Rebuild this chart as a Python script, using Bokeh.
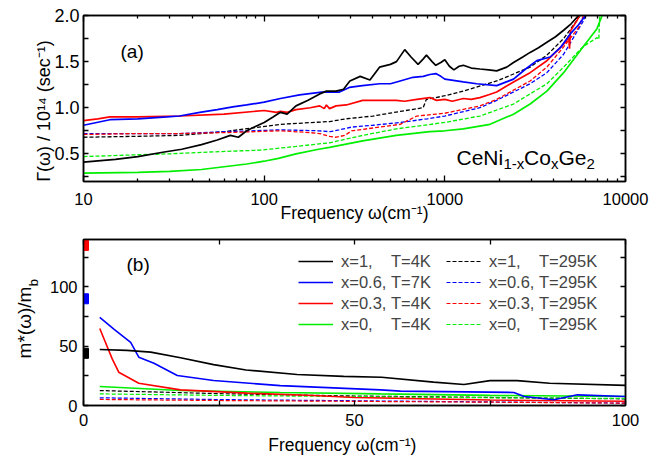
import math
from bokeh.plotting import figure
from bokeh.models import (LogAxis, LinearAxis, Label, Legend, LegendItem, FixedTicker,
                          Range1d, BasicTickFormatter, CustomJSTickFormatter,
                          PrintfTickFormatter)
from bokeh.layouts import column
from bokeh.embed import file_html
from bokeh.resources import INLINE

FONT = "Liberation Sans"
NB = "\u00a0"

# ---------------- Panel (a): scattering rate Gamma(omega) ----------------
a_ticks_x = [10, 100, 1000, 10000]
a_ticks_y = [0.5, 1.0, 1.5, 2.0]

k4_w = [10, 15, 20, 28, 35, 45, 55, 65, 72, 80, 90, 100, 112, 123, 134, 150, 175, 203, 221, 250,
        275, 298, 340, 385, 435, 500, 540, 600, 650, 711, 760, 791, 850, 891, 950, 1000, 1060,
        1122, 1200, 1265, 1400, 1563, 1750, 1936, 2200, 2400, 2700, 2965, 3300, 3672, 4100,
        4545, 5000, 5500, 5700]
k4_g = [0.41, 0.44, 0.47, 0.52, 0.55, 0.60, 0.65, 0.70, 0.68, 0.75, 0.80, 0.84, 0.90, 0.95, 0.93,
        1.02, 1.08, 1.15, 1.18, 1.18, 1.20, 1.29, 1.34, 1.30, 1.44, 1.47, 1.50, 1.63, 1.55, 1.47,
        1.53, 1.57, 1.50, 1.46, 1.49, 1.52, 1.45, 1.41, 1.45, 1.46, 1.43, 1.42, 1.41, 1.40, 1.44,
        1.49, 1.55, 1.60, 1.65, 1.71, 1.77, 1.84, 1.91, 2.0, 2.05]

b7_w = [10, 14, 20, 29, 34, 44, 55, 67, 80, 100, 123, 157, 208, 261, 296, 350, 436, 500, 566,
        667, 760, 826, 891, 950, 1000, 1265, 1500, 1936, 2400, 2800, 3230, 3830, 4400, 4945,
        5500, 6000, 6200]
b7_g = [0.81, 0.87, 0.88, 0.90, 0.91, 0.95, 0.98, 1.01, 1.03, 1.06, 1.10, 1.14, 1.17, 1.17, 1.22,
        1.24, 1.26, 1.26, 1.29, 1.33, 1.34, 1.36, 1.37, 1.34, 1.31, 1.28, 1.26, 1.24, 1.31, 1.42,
        1.51, 1.55, 1.66, 1.80, 1.90, 2.0, 2.05]

r4_w = [10, 12, 14, 20, 34, 60, 100, 117, 123, 134, 150, 180, 203, 215, 221, 230, 250, 285, 351,
        385, 450, 538, 600, 700, 826, 900, 1000, 1100, 1265, 1400, 1563, 1750, 1936, 2400, 2965,
        3672, 4300, 4700, 4850, 4900, 4950, 5400, 5700]
r4_g = [0.86, 0.88, 0.90, 0.90, 0.91, 0.93, 0.97, 0.95, 0.96, 0.95, 0.98, 1.00, 1.02, 0.99, 1.03,
        0.99, 1.02, 1.03, 1.08, 1.08, 1.08, 1.08, 1.07, 1.09, 1.11, 1.08, 1.09, 1.07, 1.10, 1.09,
        1.11, 1.14, 1.17, 1.28, 1.38, 1.51, 1.64, 1.72, 1.78, 1.64, 1.83, 1.95, 2.05]

g4_w = [10, 20, 30, 45, 60, 80, 100, 120, 150, 200, 230, 351, 538, 826, 1000, 1265, 1778, 2400,
        2965, 3672, 4545, 5623, 6966, 7420, 7600]
g4_g = [0.29, 0.30, 0.31, 0.33, 0.36, 0.39, 0.42, 0.45, 0.50, 0.55, 0.57, 0.64, 0.70, 0.74, 0.75,
        0.77, 0.82, 0.93, 1.04, 1.18, 1.38, 1.62, 1.86, 2.0, 2.05]

kd_w = [10, 20, 34, 60, 123, 230, 285, 400, 566, 758, 790, 1000, 1265, 1936, 2965, 3672, 4545,
        5400, 5700]
kd_g = [0.68, 0.69, 0.70, 0.74, 0.82, 0.85, 0.88, 0.91, 0.96, 1.00, 1.09, 1.13, 1.18, 1.29, 1.44,
        1.57, 1.75, 1.95, 2.02]

bd_w = [10, 20, 34, 60, 123, 200, 232, 260, 305, 400, 566, 800, 1000, 1563, 1936, 2965, 3672,
        4545, 5800, 6100]
bd_g = [0.72, 0.72, 0.72, 0.74, 0.76, 0.75, 0.74, 0.76, 0.79, 0.81, 0.84, 0.88, 0.91, 1.00, 1.08,
        1.26, 1.38, 1.58, 1.93, 2.02]

rd_w = [10, 20, 34, 60, 123, 180, 203, 230, 250, 280, 305, 400, 566, 700, 1000, 1563, 1936, 2965,
        3672, 4545, 5500, 5900]
rd_g = [0.71, 0.72, 0.72, 0.73, 0.75, 0.73, 0.72, 0.69, 0.68, 0.70, 0.75, 0.78, 0.82, 0.91, 0.94,
        1.02, 1.09, 1.29, 1.44, 1.66, 1.87, 2.02]

gd_w = [10, 20, 30, 50, 95, 150, 230, 351, 538, 1000, 1563, 2400, 2965, 3672, 4545, 5800, 6966,
        7120, 7200]
gd_g = [0.47, 0.49, 0.50, 0.52, 0.54, 0.58, 0.62, 0.70, 0.77, 0.84, 0.91, 1.04, 1.15, 1.26, 1.44,
        1.66, 1.76, 1.74, 2.02]

# ---------------- Panel (b): effective mass m*(omega)/m_b ----------------
b_ticks_x = [0, 50, 100]
b_ticks_y = [0, 50, 100]

mk4_w = [3, 8, 12.4, 17.9, 24, 30, 39.4, 48, 55, 64.6, 70.2, 75, 80, 86, 100]
mk4_m = [47.2, 46.5, 45, 40.2, 34.5, 30, 26.1, 24.6, 23.8, 19.7, 17.7, 21, 21, 18.8, 17]

mb7_w = [3, 5.6, 8.7, 10.2, 13, 17.3, 24, 36.3, 54.8, 58.5, 79.4, 81.3, 86.8, 91.1, 100]
mb7_m = [74.4, 64.5, 53.3, 40.7, 35.6, 25.3, 21.1, 16.8, 13.2, 12.1, 11.0, 7.6, 4.8, 9.0, 7.6]

mr4_w = [3, 5.3, 6.5, 10.2, 17.9, 30.2, 42.4, 50, 75, 100]
mr4_m = [65, 39.3, 28.1, 18.8, 13.2, 10.4, 8.4, 6.8, 4.6, 3.6]

mg4_w = [3, 17.9, 36.3, 54.8, 75, 100]
mg4_m = [16, 12.6, 11, 9.8, 8.5, 7.6]

md_w = [3, 25, 50, 75, 100]
mkd_m = [12.6, 10.0, 8.0, 6.8, 5.6]
mbd_m = [6.5, 5.0, 4.0, 3.0, 2.0]
mrd_m = [5.1, 4.2, 3.5, 2.8, 2.0]
mgd_m = [9.8, 8.5, 7.5, 6.5, 5.9]

# dc-limit values (squares on the left axis)
sq_w = [0, 0, 0]
sq_m = [44, 90, 135]
sq_c = ["black", "blue", "red"]

legend_labels = [
    "x=1," + NB * 4 + "T=4K", "x=1," + NB * 4 + "T=295K",
    "x=0.6," + NB + "T=7K", "x=0.6," + NB + "T=295K",
    "x=0.3," + NB + "T=4K", "x=0.3," + NB + "T=295K",
    "x=0," + NB * 4 + "T=4K", "x=0," + NB * 4 + "T=295K",
]

BLACK, BLUE, RED, GREEN = "#000000", "#0000ff", "#ff0000", "#00ee00"
DASH = "4 2"


def style_axis(ax, size, standoff, tin=5, minor_in=3, labels=True):
    ax.axis_line_color = "black"
    ax.axis_line_width = 1.5
    ax.major_tick_in = tin
    ax.major_tick_out = 0
    ax.minor_tick_in = minor_in
    ax.minor_tick_out = 0
    ax.major_tick_line_width = 1.3
    ax.minor_tick_line_width = 1.3
    ax.major_label_text_font = FONT
    ax.major_label_text_color = "black"
    ax.major_label_text_font_size = size
    ax.major_label_standoff = standoff
    ax.axis_label_text_font = FONT
    ax.axis_label_text_font_style = "normal"
    ax.axis_label_text_color = "black"
    if not labels:
        ax.formatter = CustomJSTickFormatter(code="return ''")
        ax.major_label_text_alpha = 0


def lbl(text, x, y, size, angle=0.0, align="left", baseline="alphabetic", font=FONT):
    return Label(x=x, y=y, x_units="screen", y_units="screen", text=text, angle=angle,
                 text_align=align, text_baseline=baseline, text_font=font,
                 text_font_size=size, text_color="black")


# ---------- figure (a) ----------
p1 = figure(x_axis_type="log", x_range=Range1d(10, 10000), y_range=Range1d(0.2, 2.0),
            frame_width=542, frame_height=166, min_border_left=83, min_border_right=44,
            min_border_top=15, min_border_bottom=51, output_backend="svg",
            toolbar_location=None)
p1.xgrid.visible = False
p1.ygrid.visible = False
p1.outline_line_color = "black"
p1.outline_line_width = 1.5
p1.background_fill_color = "white"
p1.border_fill_color = "white"

minor_log = [m * 10 ** e for e in (1, 2, 3) for m in range(2, 10)]
xt_a = FixedTicker(ticks=a_ticks_x, minor_ticks=minor_log)
yt_a = FixedTicker(ticks=a_ticks_y, minor_ticks=[0.25, 0.75, 1.25, 1.75])

p1.xaxis.ticker = xt_a
p1.xaxis.formatter = BasicTickFormatter(use_scientific=False)
p1.yaxis.ticker = yt_a
p1.yaxis.formatter = PrintfTickFormatter(format="%.1f")
for ax in p1.xaxis:
    style_axis(ax, "16.5px", 11, tin=6, minor_in=3)
    ax.axis_label = "Frequency \u03c9(cm\u207b\u00b9)"
    ax.axis_label_text_font_size = "17.5px"
    ax.axis_label_standoff = -5
for ax in p1.yaxis:
    style_axis(ax, "18px", 4, tin=5, minor_in=5)
    ax.axis_label = "\u0393(\u03c9) / 10\u00b9\u2074 (sec\u207b\u00b9)" + NB * 5
    ax.axis_label_text_font_size = "18px"
    ax.axis_label_standoff = -3

top_a = LogAxis(ticker=xt_a)
style_axis(top_a, "1px", 0, tin=6, minor_in=3, labels=False)
p1.add_layout(top_a, "above")
right_a = LinearAxis(ticker=yt_a)
style_axis(right_a, "1px", 0, tin=5, minor_in=5, labels=False)
p1.add_layout(right_a, "right")

LW = 1.7
p1.line(kd_w, kd_g, color=BLACK, line_width=1.3, line_dash=DASH)
p1.line(bd_w, bd_g, color=BLUE, line_width=1.3, line_dash=DASH)
p1.line(rd_w, rd_g, color=RED, line_width=1.3, line_dash=DASH)
p1.line(gd_w, gd_g, color=GREEN, line_width=1.3, line_dash=DASH)
p1.line(g4_w, g4_g, color=GREEN, line_width=LW)
p1.line(r4_w, r4_g, color=RED, line_width=LW)
p1.line(b7_w, b7_g, color=BLUE, line_width=LW)
p1.line(k4_w, k4_g, color=BLACK, line_width=LW)

p1.add_layout(lbl("(a)", 37, 130, "19px"))
# CeNi(1-x)Co(x)Ge(2)
p1.add_layout(lbl("CeNi", 373, 24, "21px"))
p1.add_layout(lbl("1-x", 420, 18, "15px"))
p1.add_layout(lbl("Co", 440.5, 24, "21px"))
p1.add_layout(lbl("x", 467.5, 18, "15px"))
p1.add_layout(lbl("Ge", 475, 24, "21px"))
p1.add_layout(lbl("2", 503, 18, "15px"))

# ---------- figure (b) ----------
p2 = figure(x_range=Range1d(0, 100), y_range=Range1d(0, 140),
            frame_width=542, frame_height=166, min_border_left=83, min_border_right=44,
            min_border_top=7, min_border_bottom=56, output_backend="svg",
            toolbar_location=None)
p2.xgrid.visible = False
p2.ygrid.visible = False
p2.outline_line_color = "black"
p2.outline_line_width = 1.5
p2.background_fill_color = "white"
p2.border_fill_color = "white"

xt_b = FixedTicker(ticks=b_ticks_x, minor_ticks=[25, 75])
yt_b = FixedTicker(ticks=b_ticks_y, minor_ticks=[25, 75, 125])
p2.xaxis.ticker = xt_b
p2.yaxis.ticker = yt_b
for ax in p2.xaxis:
    style_axis(ax, "16.5px", 8, tin=5, minor_in=5)
    ax.axis_label = "Frequency \u03c9(cm\u207b\u00b9)" + NB * 5
    ax.axis_label_text_font_size = "17.5px"
    ax.axis_label_standoff = 6
for ax in p2.yaxis:
    style_axis(ax, "16.5px", 6, tin=5, minor_in=5)
    # subscript "b" of m_b, lifted along the axis with non-breaking spaces
    ax.axis_label = NB * 22 + "b"
    ax.axis_label_text_font_size = "13px"
    ax.axis_label_standoff = 6
left_b2 = LinearAxis(ticker=FixedTicker(ticks=[]), axis_label="m*(\u03c9)/m")
style_axis(left_b2, "1px", 0, tin=0, minor_in=0, labels=False)
left_b2.axis_line_color = None
left_b2.axis_label_text_font_size = "19px"
left_b2.axis_label_standoff = -12
p2.add_layout(left_b2, "left")

top_b = LinearAxis(ticker=xt_b)
style_axis(top_b, "1px", 0, tin=5, minor_in=5, labels=False)
p2.add_layout(top_b, "above")
right_b = LinearAxis(ticker=yt_b)
style_axis(right_b, "1px", 0, tin=5, minor_in=5, labels=False)
p2.add_layout(right_b, "right")

LW2 = 1.6
r_kd = p2.line(md_w, mkd_m, color=BLACK, line_width=1.2, line_dash=DASH)
r_bd = p2.line(md_w, mbd_m, color=BLUE, line_width=1.2, line_dash=DASH)
r_rd = p2.line(md_w, mrd_m, color=RED, line_width=1.2, line_dash=DASH)
r_gd = p2.line(md_w, mgd_m, color=GREEN, line_width=1.2, line_dash=DASH)
r_g4 = p2.line(mg4_w, mg4_m, color=GREEN, line_width=LW2)
r_r4 = p2.line(mr4_w, mr4_m, color=RED, line_width=LW2)
r_b7 = p2.line(mb7_w, mb7_m, color=BLUE, line_width=LW2)
r_k4 = p2.line(mk4_w, mk4_m, color=BLACK, line_width=LW2)
p2.scatter(sq_w, sq_m, marker="square", size=10, color=sq_c)

# legend fills column by column
rends = [r_k4, r_b7, r_r4, r_g4, r_kd, r_bd, r_rd, r_gd]
labs = [legend_labels[i] for i in (0, 2, 4, 6, 1, 3, 5, 7)]
items = [LegendItem(label=t, renderers=[r]) for t, r in zip(labs, rends)]
legend = Legend(items=items, ncols=2, location=(215, 71), padding=0, margin=0,
                spacing=1, glyph_width=35, glyph_height=20, label_height=20,
                label_width=104, label_standoff=8, label_text_font=FONT,
                label_text_font_size="16.5px", background_fill_alpha=0,
                border_line_alpha=0)
p2.add_layout(legend)

p2.add_layout(lbl("(b)", 43, 141, "19px", baseline="middle"))

layout = column(p1, p2, spacing=0)
open("out.html", "w").write(file_html(layout, INLINE))
